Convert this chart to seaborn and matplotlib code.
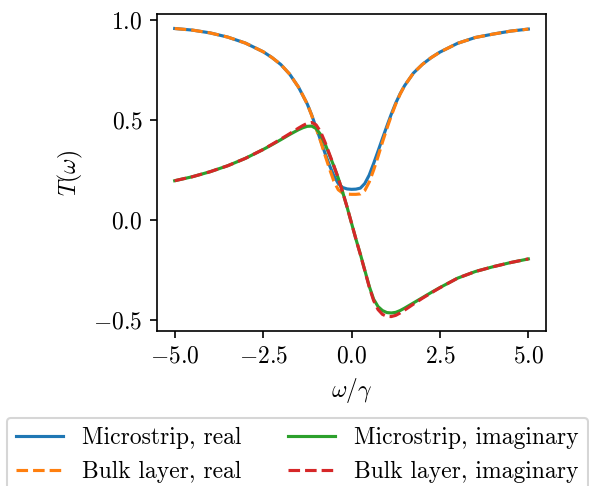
import numpy as np
import pandas as pd
import seaborn as sns
import matplotlib
matplotlib.use('Agg')
import matplotlib.pyplot as plt

# valores
omega = [-5, -4.5, -4, -3.5, -3, -2.5, -2.25, -2, -1.75,
         -1.5, -1.375, -1.25, -1.125, -1, -0.875, -0.75, -0.625, -0.5,
         -0.375, -0.25, -0.125, 0, 0.125, 0.25, 0.375, 0.5, 0.625, 0.75,
         0.875, 1, 1.125, 1.25, 1.375, 1.5,
         1.75, 2, 2.25, 2.5, 3, 3.5, 4, 4.5, 5]

micro_real = [0.958, 0.950, 0.936, 0.915, 0.885, 0.842, 0.813, 0.778, 0.730,
              0.665, 0.623, 0.580, 0.525, 0.462, 0.400, 0.335, 0.275, 0.222,
              0.183, 0.163, 0.156, 0.154, 0.155, 0.160, 0.183, 0.225, 0.283, 0.345,
              0.408, 0.470, 0.530, 0.585, 0.632, 0.672,
              0.735, 0.778, 0.812, 0.840, 0.884, 0.913, 0.930, 0.945, 0.955]

bulk_real = [0.958, 0.950, 0.936, 0.915, 0.885, 0.842, 0.813, 0.778, 0.730,
             0.665, 0.623, 0.580, 0.523, 0.458, 0.395, 0.325, 0.258, 0.195,
             0.152, 0.135, 0.130, 0.129, 0.129, 0.131, 0.148, 0.190, 0.250, 0.318,
             0.390, 0.458, 0.522, 0.580, 0.630, 0.672,
             0.735, 0.778, 0.812, 0.840, 0.884, 0.913, 0.930, 0.945, 0.955]

micro_imag = [0.197, 0.217, 0.242, 0.272, 0.309, 0.353, 0.377, 0.402, 0.428,
              0.452, 0.462, 0.469, 0.470, 0.458, 0.428, 0.382, 0.326, 0.270,
              0.210, 0.140, 0.065, -0.015, -0.095, -0.170, -0.250, -0.330, -0.395, -0.432,
              -0.452, -0.462, -0.464, -0.461, -0.452, -0.440,
              -0.414, -0.388, -0.362, -0.337, -0.290, -0.257, -0.233, -0.212, -0.194]

bulk_imag = [0.197, 0.217, 0.242, 0.272, 0.309, 0.353, 0.379, 0.405, 0.432,
             0.460, 0.473, 0.484, 0.488, 0.476, 0.442, 0.390, 0.331, 0.272,
             0.210, 0.140, 0.065, -0.015, -0.095, -0.172, -0.252, -0.333, -0.402, -0.447,
             -0.471, -0.481, -0.482, -0.476, -0.464, -0.450,
             -0.420, -0.391, -0.364, -0.338, -0.290, -0.257, -0.233, -0.212, -0.194]

etiquetas = ['Microstrip, real', 'Bulk layer, real',
             'Microstrip, imaginary', 'Bulk layer, imaginary']
series = [micro_real, bulk_real, micro_imag, bulk_imag]
colores = ['#1f77b4', '#ff7f0e', '#2ca02c', '#d62728']
estilos = ['-', '--', '-', '--']

# fuente tipo LaTeX
plt.rcParams['font.family'] = 'cmr10'
plt.rcParams['mathtext.fontset'] = 'cm'
plt.rcParams['axes.formatter.use_mathtext'] = True
plt.rcParams['font.size'] = 11.3

fig = plt.figure(figsize=(589/150, 486/150), dpi=150)
ax = fig.add_axes([0.2666, 0.319, 0.6604, 0.652])

for vals, lab, col, ls in zip(series, etiquetas, colores, estilos):
    sns.lineplot(x=omega, y=vals, ax=ax, color=col, linestyle=ls,
                 linewidth=1.5, label=lab, legend=False)

ax.set_xlabel(r'$\omega/\gamma$')
ax.set_ylabel(r'$T(\omega)$')
ax.set_xticks([-5, -2.5, 0, 2.5, 5])
ax.set_yticks([-0.5, 0, 0.5, 1.0])

h, l = ax.get_legend_handles_labels()
fig.legend(h, l, loc='upper center', bbox_to_anchor=(0.505, 0.165), ncol=2)

fig.savefig('out.png', dpi=150)
